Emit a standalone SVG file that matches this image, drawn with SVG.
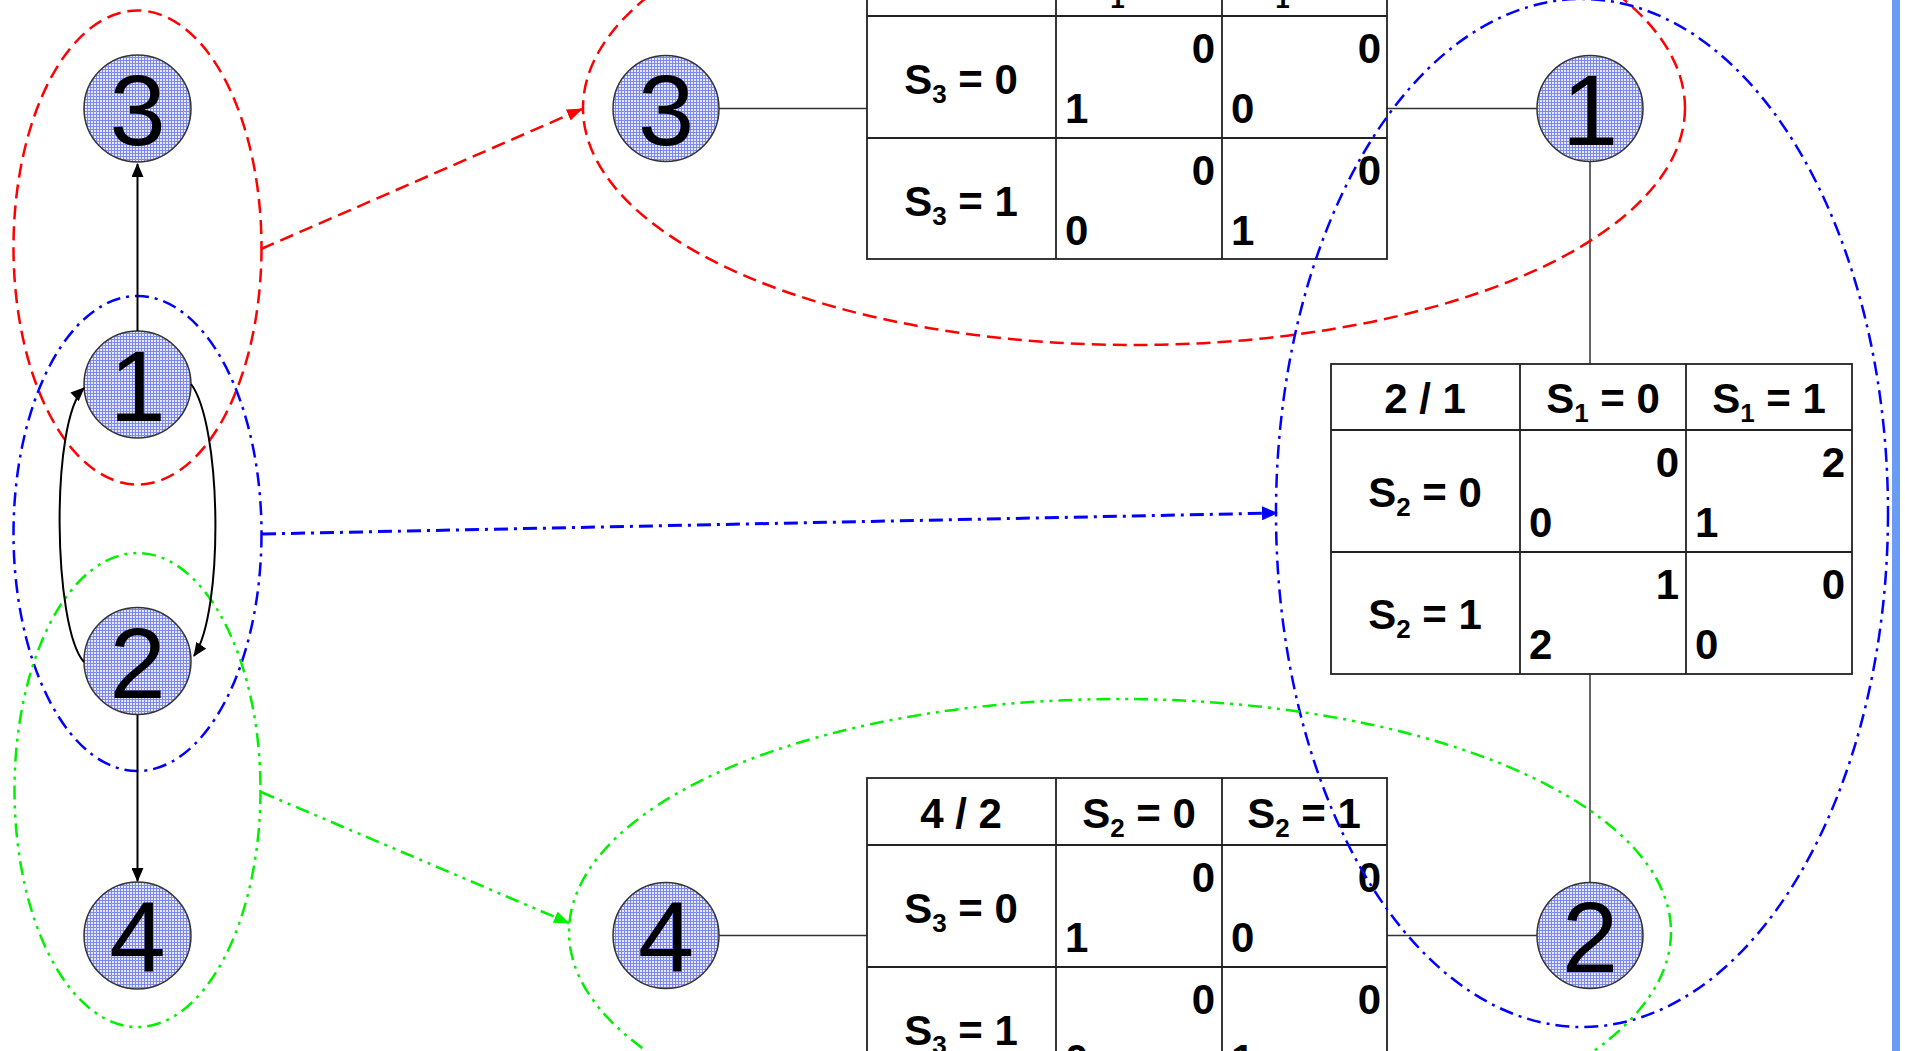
<svg xmlns="http://www.w3.org/2000/svg" width="1905" height="1051" viewBox="0 0 1905 1051">
<style>
.nd{fill:url(#grid);stroke:#333;stroke-width:1.5}
.nt{font-family:"Liberation Sans",Arial,sans-serif;font-size:101px;fill:#000;text-anchor:middle}
.tb{fill:#fff;stroke:#222;stroke-width:1.8}
.tl{stroke:#222;stroke-width:1.8}
.tx{font-family:"Liberation Sans",Arial,sans-serif;font-size:42px;font-weight:bold;fill:#000}
.c{text-anchor:middle}
.r{text-anchor:end}
.s{font-size:26px}
.ln{stroke:#333;stroke-width:1.5;fill:none}
.red{fill:none;stroke:#ff0000;stroke-width:2.5;stroke-dasharray:14 7}
.blue{fill:none;stroke:#0000ff;stroke-width:2.5;stroke-dasharray:14 6 3 6}
.green{fill:none;stroke:#00f000;stroke-width:2.5;stroke-dasharray:14 6 3 6 3 6}
.blk{fill:none;stroke:#000;stroke-width:2}
</style>
<defs>
<pattern id="grid" width="3" height="3" patternUnits="userSpaceOnUse">
<rect width="3" height="3" fill="#e6e8ff"/>
<path d="M0 0.5H3M0.5 0V3" stroke="#7d88ee" stroke-width="1"/>
</pattern>
<marker id="aBlk" markerUnits="userSpaceOnUse" markerWidth="14" markerHeight="12" refX="13" refY="6" orient="auto"><path d="M0,0 L14,6 L0,12 z" fill="#000"/></marker>
<marker id="aRed" markerUnits="userSpaceOnUse" markerWidth="16" markerHeight="12" refX="15" refY="6" orient="auto"><path d="M0,0 L16,6 L0,12 z" fill="#ff0000"/></marker>
<marker id="aBlue" markerUnits="userSpaceOnUse" markerWidth="16" markerHeight="14" refX="15" refY="7" orient="auto"><path d="M0,0 L16,7 L0,14 z" fill="#0000ff"/></marker>
<marker id="aGreen" markerUnits="userSpaceOnUse" markerWidth="16" markerHeight="12" refX="15" refY="6" orient="auto"><path d="M0,0 L16,6 L0,12 z" fill="#00f000"/></marker>
</defs>
<rect width="1905" height="1051" fill="#fff"/>
<rect x="1892" y="0" width="8" height="1051" fill="#6b9cf5"/>

<!-- tree links on the right -->
<g id="tree-links">
<path class="ln" d="M719 108.5H867M1387 108.5H1537M1590 162V364M1590 674V882M719 935.5H867M1387 935.5H1537"/>
</g>

<!-- table 3/1 -->
<g id="table31">
<rect class="tb" x="867" y="-51" width="520" height="310"/>
<path class="tl" d="M867 16H1387M867 138H1387M1056 -51V259M1222 -51V259"/>
<text class="tx c" x="961" y="-1">3 / 1</text>
<text class="tx c" x="1139" y="-1">S<tspan class="s" dy="9">1</tspan><tspan dy="-9"> = 0</tspan></text>
<text class="tx c" x="1304" y="-1">S<tspan class="s" dy="9">1</tspan><tspan dy="-9"> = 1</tspan></text>
<text class="tx c" x="961" y="94">S<tspan class="s" dy="9">3</tspan><tspan dy="-9"> = 0</tspan></text>
<text class="tx c" x="961" y="216">S<tspan class="s" dy="9">3</tspan><tspan dy="-9"> = 1</tspan></text>
<text class="tx r" x="1215" y="63">0</text><text class="tx" x="1065" y="123">1</text>
<text class="tx r" x="1381" y="63">0</text><text class="tx" x="1231" y="123">0</text>
<text class="tx r" x="1215" y="185">0</text><text class="tx" x="1065" y="245">0</text>
<text class="tx r" x="1381" y="185">0</text><text class="tx" x="1231" y="245">1</text>
</g>

<!-- table 2/1 -->
<g id="table21">
<rect class="tb" x="1331" y="364" width="521" height="310"/>
<path class="tl" d="M1331 430H1852M1331 552H1852M1520 364V674M1686 364V674"/>
<text class="tx c" x="1425" y="413">2 / 1</text>
<text class="tx c" x="1603" y="413">S<tspan class="s" dy="9">1</tspan><tspan dy="-9"> = 0</tspan></text>
<text class="tx c" x="1769" y="413">S<tspan class="s" dy="9">1</tspan><tspan dy="-9"> = 1</tspan></text>
<text class="tx c" x="1425" y="507">S<tspan class="s" dy="9">2</tspan><tspan dy="-9"> = 0</tspan></text>
<text class="tx c" x="1425" y="629">S<tspan class="s" dy="9">2</tspan><tspan dy="-9"> = 1</tspan></text>
<text class="tx r" x="1679" y="477">0</text><text class="tx" x="1529" y="537">0</text>
<text class="tx r" x="1845" y="477">2</text><text class="tx" x="1695" y="537">1</text>
<text class="tx r" x="1679" y="599">1</text><text class="tx" x="1529" y="659">2</text>
<text class="tx r" x="1845" y="599">0</text><text class="tx" x="1695" y="659">0</text>
</g>

<!-- table 4/2 -->
<g id="table42">
<rect class="tb" x="867" y="778" width="520" height="311"/>
<path class="tl" d="M867 845H1387M867 967H1387M1056 778V1089M1222 778V1089"/>
<text class="tx c" x="961" y="828">4 / 2</text>
<text class="tx c" x="1139" y="828">S<tspan class="s" dy="9">2</tspan><tspan dy="-9"> = 0</tspan></text>
<text class="tx c" x="1304" y="828">S<tspan class="s" dy="9">2</tspan><tspan dy="-9"> = 1</tspan></text>
<text class="tx c" x="961" y="923">S<tspan class="s" dy="9">3</tspan><tspan dy="-9"> = 0</tspan></text>
<text class="tx c" x="961" y="1045">S<tspan class="s" dy="9">3</tspan><tspan dy="-9"> = 1</tspan></text>
<text class="tx r" x="1215" y="892">0</text><text class="tx" x="1065" y="952">1</text>
<text class="tx r" x="1381" y="892">0</text><text class="tx" x="1231" y="952">0</text>
<text class="tx r" x="1215" y="1014">0</text><text class="tx" x="1065" y="1074">0</text>
<text class="tx r" x="1381" y="1014">0</text><text class="tx" x="1231" y="1074">1</text>
</g>

<!-- left graph nodes -->
<g id="L3"><circle class="nd" cx="137.5" cy="108.5" r="53.5"/><text class="nt" x="137.5" y="145">3</text></g>
<g id="L1"><circle class="nd" cx="137.5" cy="384.5" r="53.5"/><text class="nt" x="137.5" y="421">1</text></g>
<g id="L2"><circle class="nd" cx="137.5" cy="661" r="53.5"/><text class="nt" x="137.5" y="697.5">2</text></g>
<g id="L4"><circle class="nd" cx="137.5" cy="935.5" r="53.5"/><text class="nt" x="137.5" y="972">4</text></g>

<!-- right tree nodes -->
<g id="R3"><circle class="nd" cx="666" cy="108.5" r="53"/><text class="nt" x="666" y="145">3</text></g>
<g id="R1"><circle class="nd" cx="1590" cy="108.5" r="53"/><text class="nt" x="1590" y="145">1</text></g>
<g id="R4"><circle class="nd" cx="666" cy="935.5" r="53"/><text class="nt" x="666" y="972">4</text></g>
<g id="R2"><circle class="nd" cx="1590" cy="935.5" r="53"/><text class="nt" x="1590" y="972">2</text></g>

<!-- clusters -->
<g id="clusters">
<ellipse class="red" cx="137.5" cy="247.5" rx="124" ry="237"/>
<ellipse class="blue" cx="137.5" cy="533.5" rx="124" ry="237.5"/>
<ellipse class="green" cx="137.5" cy="790" rx="123" ry="237"/>
<ellipse class="red" cx="1134" cy="108" rx="551" ry="237"/>
<ellipse class="blue" cx="1582" cy="513" rx="306" ry="514"/>
<ellipse class="green" cx="1120" cy="932" rx="551" ry="233"/>
</g>

<!-- connectors -->
<g id="connectors">
<line class="blk" x1="137.5" y1="331" x2="137.5" y2="164" marker-end="url(#aBlk)"/>
<line class="blk" x1="137.5" y1="715" x2="137.5" y2="881" marker-end="url(#aBlk)"/>
<path class="blk" d="M84 662 C53 628,50 420,84 388" marker-end="url(#aBlk)"/>
<path class="blk" d="M191 384 C222 425,224 612,194 656" marker-end="url(#aBlk)"/>
<line class="red" x1="261" y1="249" x2="582" y2="109" marker-end="url(#aRed)"/>
<line class="blue" style="stroke-width:3" x1="262" y1="534" x2="1277" y2="513" marker-end="url(#aBlue)"/>
<line class="green" x1="261" y1="792" x2="569" y2="923" marker-end="url(#aGreen)"/>
</g>
</svg>
